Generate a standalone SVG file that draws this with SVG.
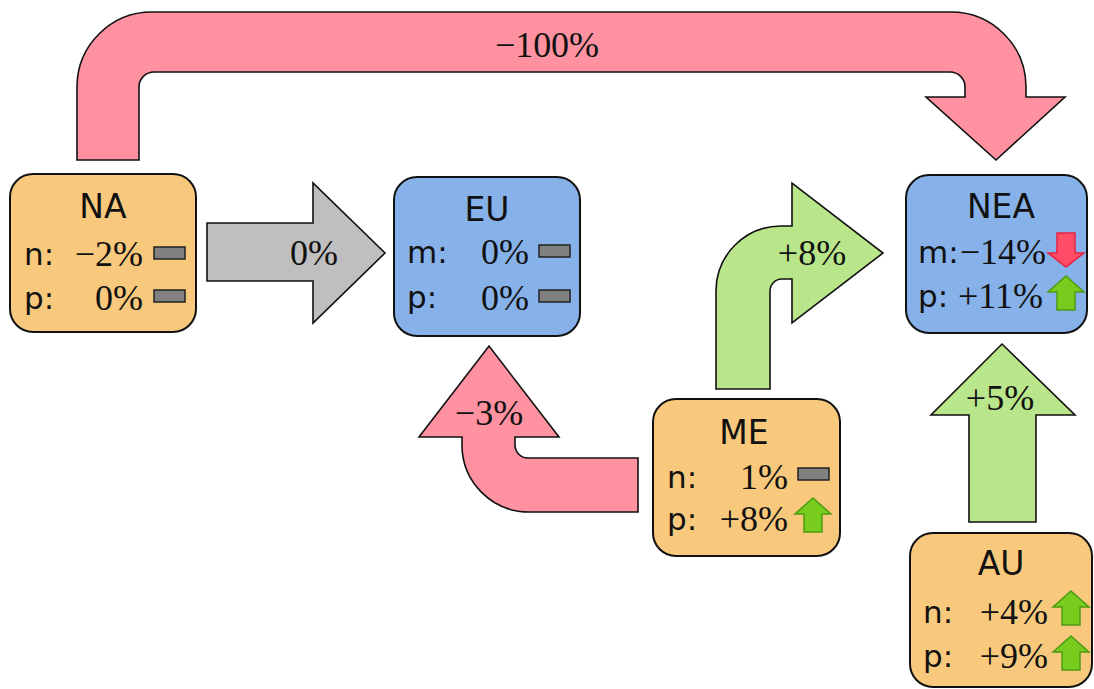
<svg xmlns="http://www.w3.org/2000/svg" xmlns:xlink="http://www.w3.org/1999/xlink" width="1094" height="689" viewBox="0 0 1094 689">
  <style>
    .box { stroke: #111; stroke-width: 2; }
    .supply { fill: #F8C97C; }
    .demand { fill: #87B2E9; }
    .flow { stroke: #111; stroke-width: 1.6; stroke-linejoin: miter; }
    .down { fill: #FF91A0; }
    .up { fill: #B9E68A; }
    .flat { fill: #BFBFBF; }
    .title { font-family: "DejaVu Sans", sans-serif; font-size: 33px; fill: #111; text-anchor: middle; }
    .lbl { font-family: "DejaVu Sans", sans-serif; font-size: 31px; fill: #111; }
    .num { font-family: "Liberation Serif", "Times New Roman", serif; font-size: 36px; fill: #111; text-anchor: end; }
    .flowtxt { font-family: "Liberation Serif", "Times New Roman", serif; font-size: 36px; fill: #111; text-anchor: middle; }
    .bar { fill: #808080; stroke: #222; stroke-width: 1.5; }
    .incr { fill: #78CC1E; stroke: #4E9A12; stroke-width: 1.5; }
    .decr { fill: #FF4D68; stroke: #E3203F; stroke-width: 1.5; }
  </style>
  <defs>
    <!-- trend indicators, 36 x 34 -->
    <path id="ind-up" d="M18,0 L36,16 L27,16 L27,34 L9,34 L9,16 L0,16 Z"/>
    <path id="ind-down" d="M9,0 L27,0 L27,20 L36,20 L18,34 L0,20 L9,20 Z"/>
  </defs>

  <rect width="1094" height="689" fill="#ffffff"/>

  <!-- flows between regions -->
  <g id="connectors">
    <g id="flow-na-nea">
      <path class="flow down" d="M77,160 L77,87 A75,75 0 0 1 152,12 L951,12 A75,75 0 0 1 1026,87 L1026,97 L1065,97 L996,160 L926,97 L965,97 L965,87 A15,15 0 0 0 950,72 L154,72 A15,15 0 0 0 139,87 L139,160 Z"/>
      <text class="flowtxt" x="547" y="57" font-size="37" textLength="104" lengthAdjust="spacing">−100%</text>
    </g>
    <g id="flow-na-eu">
      <path class="flow flat" d="M207,223 L313,223 L313,183 L385,253 L313,323 L313,281 L207,281 Z"/>
      <text class="flowtxt" x="314" y="265">0%</text>
    </g>
    <g id="flow-me-eu">
      <path class="flow down" d="M638,458 L528,458 A13,13 0 0 1 515,445 L515,437 L559,437 L489,346 L419,437 L462,437 L462,445 A67,67 0 0 0 529,512 L638,512 Z"/>
      <text class="flowtxt" x="489" y="425">−3%</text>
    </g>
    <g id="flow-me-nea">
      <path class="flow up" d="M716,389 L716,291 A65,65 0 0 1 781,226 L792,226 L792,183 L883,253 L792,323 L792,279 L782,279 A12,12 0 0 0 770,291 L770,389 Z"/>
      <text class="flowtxt" x="812" y="265">+8%</text>
    </g>
    <g id="flow-au-nea">
      <path class="flow up" d="M969,522 L969,415 L931,415 L1002,344 L1075,415 L1036,415 L1036,522 Z"/>
      <text class="flowtxt" x="1000" y="410">+5%</text>
    </g>
  </g>

  <!-- regions -->
  <g id="node-na">
    <rect class="box supply" x="10" y="174" width="186" height="158" rx="23"/>
    <text class="title" x="103" y="218">NA</text>
    <text class="lbl" x="24" y="265">n:</text>
    <text class="num" x="143" y="266">−2%</text>
    <rect class="bar" x="154" y="247" width="31" height="12"/>
    <text class="lbl" x="24" y="309">p:</text>
    <text class="num" x="143" y="310">0%</text>
    <rect class="bar" x="154" y="290" width="31" height="12"/>
  </g>

  <g id="node-eu">
    <rect class="box demand" x="394" y="177" width="186" height="159" rx="23"/>
    <text class="title" x="487" y="221">EU</text>
    <text class="lbl" x="407" y="263">m:</text>
    <text class="num" x="529" y="264">0%</text>
    <rect class="bar" x="539" y="245" width="31" height="12"/>
    <text class="lbl" x="407" y="308">p:</text>
    <text class="num" x="529" y="310">0%</text>
    <rect class="bar" x="539" y="290" width="31" height="12"/>
  </g>

  <g id="node-nea">
    <rect class="box demand" x="906" y="175" width="181" height="158" rx="23"/>
    <text class="title" x="1001" y="218">NEA</text>
    <text class="lbl" x="918" y="263">m:</text>
    <text class="num" x="1046" y="264">−14%</text>
    <use href="#ind-down" xlink:href="#ind-down" class="decr" x="1048" y="233"/>
    <text class="lbl" x="918" y="307">p:</text>
    <text class="num" x="1043" y="308">+11%</text>
    <use href="#ind-up" xlink:href="#ind-up" class="incr" x="1048" y="276"/>
  </g>

  <g id="node-me">
    <rect class="box supply" x="653" y="399" width="187" height="157" rx="23"/>
    <text class="title" x="744" y="444">ME</text>
    <text class="lbl" x="667" y="488">n:</text>
    <text class="num" x="788" y="489">1%</text>
    <rect class="bar" x="798" y="468" width="31" height="12"/>
    <text class="lbl" x="667" y="530">p:</text>
    <text class="num" x="788" y="531">+8%</text>
    <use href="#ind-up" xlink:href="#ind-up" class="incr" x="795" y="498"/>
  </g>

  <g id="node-au">
    <rect class="box supply" x="910" y="533" width="182" height="154" rx="23"/>
    <text class="title" x="1001" y="575">AU</text>
    <text class="lbl" x="923" y="623">n:</text>
    <text class="num" x="1048" y="624">+4%</text>
    <use href="#ind-up" xlink:href="#ind-up" class="incr" x="1053" y="591"/>
    <text class="lbl" x="923" y="667">p:</text>
    <text class="num" x="1048" y="668">+9%</text>
    <use href="#ind-up" xlink:href="#ind-up" class="incr" x="1053" y="636"/>
  </g>
</svg>
